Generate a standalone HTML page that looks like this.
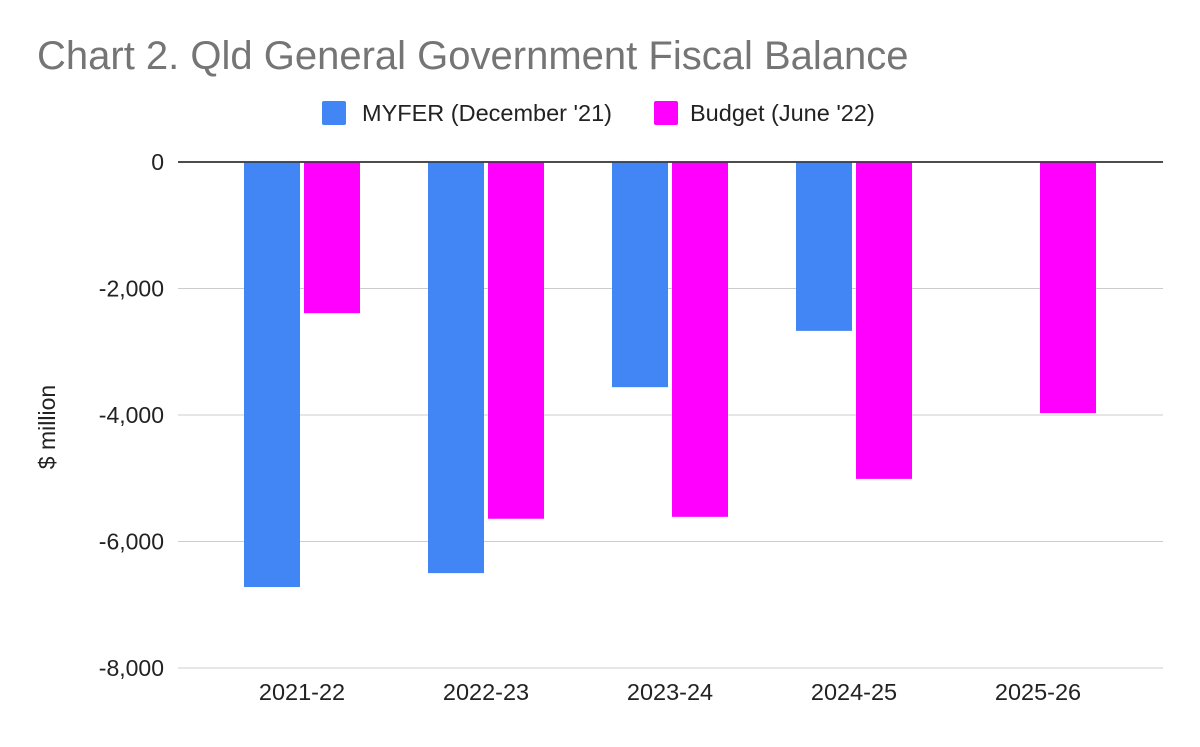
<!DOCTYPE html>
<html><head><meta charset="utf-8"><style>
body{margin:0;background:#fff;font-family:"Liberation Sans",Arial,sans-serif}
svg text{font-family:"Liberation Sans",Arial,sans-serif}
</style></head><body>
<svg id="chart" width="1200" height="742" xmlns="http://www.w3.org/2000/svg">
<rect width="1200" height="742" fill="#fff"/>
<text x="37" y="69" font-size="40" fill="#757575">Chart 2. Qld General Government Fiscal Balance</text>
<g>
<rect x="322" y="101" width="24" height="24" rx="2" fill="#4285f4"/>
<text x="362" y="121" font-size="23.5" fill="#222">MYFER (December '21)</text>
<rect x="654" y="101" width="24" height="24" rx="2" fill="#ff00ff"/>
<text x="690" y="121" font-size="23.5" fill="#222">Budget (June '22)</text>
</g>
<text transform="translate(55,427) rotate(-90)" text-anchor="middle" font-size="23" fill="#222">$ million</text>
<g id="grid"></g><g id="bars"></g><g id="labels"></g>
</svg>
<script>
const categories=["2021-22","2022-23","2023-24","2024-25","2025-26"];
const myfer=[-6720,-6500,-3560,-2670,null];
const budget=[-2390,-5640,-5610,-5010,-3970];
const yTicks=[0,-2000,-4000,-6000,-8000];
const yTickLabels=["0","-2,000","-4,000","-6,000","-8,000"];
const NS="http://www.w3.org/2000/svg";
const y=v=>162+(-v)*(506/8000);
const x=i=>302+i*184;
function mk(t,a,p){const e=document.createElementNS(NS,t);for(const k in a)e.setAttribute(k,a[k]);p.appendChild(e);return e;}
const grid=document.getElementById('grid'),bars=document.getElementById('bars'),labels=document.getElementById('labels');
yTicks.forEach((v,i)=>{
 const l=mk('line',{x1:178,x2:1163,y1:y(v),y2:y(v),stroke:v===0?'#333':'#ccc','stroke-width':v===0?1.5:1},grid);
 
 
 const t=mk('text',{x:164,y:y(v)+8,'text-anchor':'end','font-size':23,fill:'#222'},labels);
 t.textContent=yTickLabels[i];
 
 
});
categories.forEach((c,i)=>{
 const t=mk('text',{x:x(i),y:700,'text-anchor':'middle','font-size':23.5,fill:'#222'},labels);
 t.textContent=c;
 
 
 if(myfer[i]!==null){
  const b=mk('rect',{x:x(i)-58,y:y(0),width:56,height:y(myfer[i])-y(0),fill:'#4285f4'},bars);
  
  
 }
 if(budget[i]!==null){
  const b=mk('rect',{x:x(i)+2,y:y(0),width:56,height:y(budget[i])-y(0),fill:'#ff00ff'},bars);
  
  
 }
});
const zl=mk('line',{x1:178,x2:1163,y1:y(0),y2:y(0),stroke:'#333','stroke-width':1.5},bars.parentNode);


</script>
</body></html>
